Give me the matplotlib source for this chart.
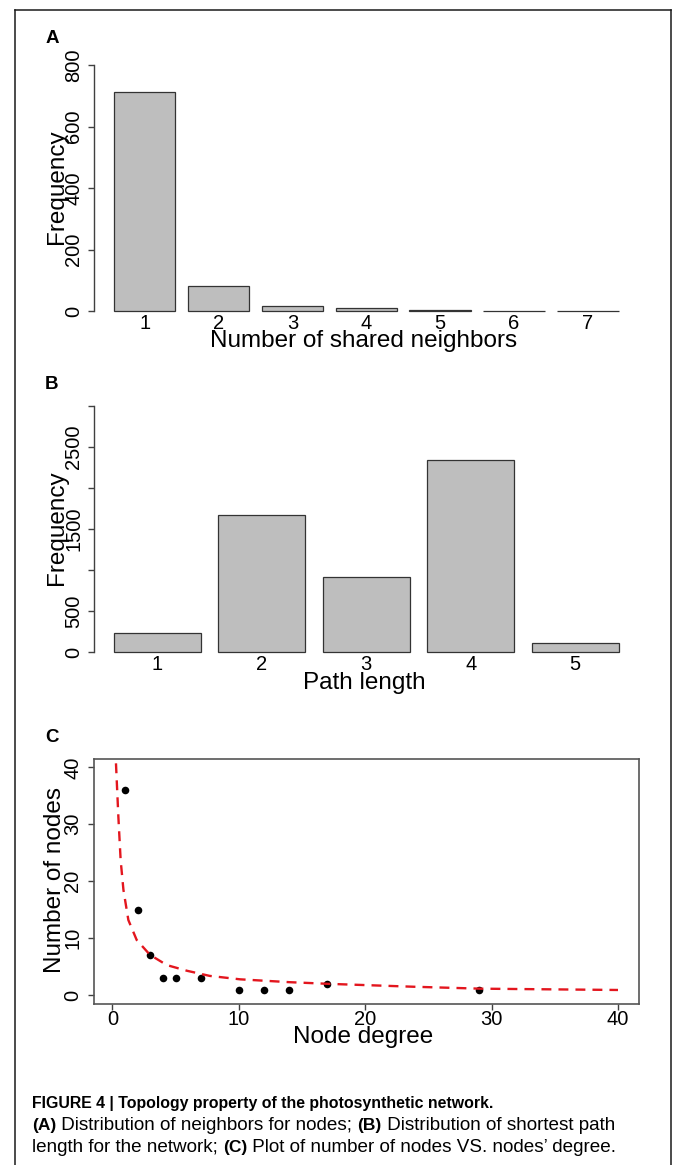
import numpy as np
import matplotlib
matplotlib.use("Agg")
import matplotlib.pyplot as plt
from matplotlib.lines import Line2D

plt.rcParams["font.family"] = ["Liberation Sans", "DejaVu Sans"]

# -----------------------------
# Data
# -----------------------------
shared_neighbors = ["1", "2", "3", "4", "5", "6", "7"]
shared_freq = [713, 81, 17, 11, 3, 1, 1]

path_length = ["1", "2", "3", "4", "5"]
path_freq = [230, 1665, 913, 2335, 110]

node_degree = [1, 2, 3, 4, 5, 7, 10, 12, 14, 17, 29]
node_count = [36, 15, 7, 3, 3, 3, 1, 1, 1, 2, 1]

# fitted curve (dashed red), read point by point
fit_degree = [0.28, 0.47, 0.65, 0.87, 1.26, 1.92, 2.97, 4.3, 5.9, 7.7,
              10.1, 14.0, 17.2, 23.8, 29.1, 40.0]
fit_count = [40.7, 31.3, 23.7, 18.5, 13.2, 9.7, 7.1, 5.3, 4.3, 3.4,
             2.8, 2.3, 2.0, 1.5, 1.16, 0.93]

W, H = 673, 1165
fig = plt.figure(figsize=(W / 100, H / 100), dpi=100)

AXC = "#404040"
BAR = "#bebebe"
TICK = 14.5
LAB = 17.5


def px_axes(left, top, right, bottom):
    return fig.add_axes([left / W, 1 - bottom / H, (right - left) / W, (bottom - top) / H])


def ftext(x, y, s, **kw):
    return fig.text(x / W, 1 - y / H, s, **kw)


def bar_panel(ax, labels, values, ymax, yticks, yticklabels, xpad):
    pos = np.arange(len(values))
    ax.bar(pos, values, width=1 / 1.2, color=BAR, edgecolor="#333333",
           linewidth=0.9, clip_on=False)
    half = 0.69 if len(values) > 5 else 0.61
    ax.set_xlim(-half, len(values) - 1 + half)
    ax.set_ylim(0, ymax)
    for s in ["top", "right", "bottom"]:
        ax.spines[s].set_visible(False)
    ax.spines["left"].set_color(AXC)
    ax.spines["left"].set_linewidth(1.0)
    ax.spines["left"].set_bounds(0, ymax)
    ax.set_xticks(pos)
    ax.set_xticklabels(labels, fontsize=TICK)
    ax.tick_params(axis="x", length=0, pad=xpad)
    ax.set_yticks(yticks)
    ax.set_yticklabels(yticklabels, fontsize=TICK, rotation=90)
    ax.tick_params(axis="y", direction="out", length=4, width=1, color=AXC, pad=3.5)
    for t in ax.get_yticklabels():
        t.set_va("center")


# -----------------------------
# A. shared neighbors
# -----------------------------
axA = px_axes(93.6, 65, 639, 311)
bar_panel(axA, shared_neighbors, shared_freq, 800,
          [0, 200, 400, 600, 800], ["0", "200", "400", "600", "800"], 2.0)
ftext(363.5, 347, "Number of shared neighbors", fontsize=LAB, ha="center", va="baseline")
ftext(57, 187, "Frequency", fontsize=LAB, rotation=90, ha="center", va="center")
ftext(46, 43, "A", fontsize=13.5, fontweight="bold", va="baseline")

# -----------------------------
# B. path length
# -----------------------------
axB = px_axes(93.6, 405.7, 639, 652)
bar_panel(axB, path_length, path_freq, 3000,
          [0, 500, 1000, 1500, 2000, 2500, 3000],
          ["0", "500", "", "1500", "", "2500", ""], 2.0)
ftext(364.5, 689.5, "Path length", fontsize=LAB, ha="center", va="baseline")
ftext(57, 527.5, "Frequency", fontsize=LAB, rotation=90, ha="center", va="center")
ftext(45, 389, "B", fontsize=13.5, fontweight="bold", va="baseline")

# -----------------------------
# C. degree distribution
# -----------------------------
axC = px_axes(93.6, 759, 638.6, 1004)
axC.scatter(node_degree, node_count, s=30, color="black", zorder=2, linewidths=0)
axC.plot(fit_degree, fit_count, color="#e3161e", linewidth=1.7,
         linestyle=(0, (4.2, 3.0)), zorder=3)
axC.set_xlim(-1.49, 41.63)
axC.set_ylim(-1.53, 41.46)
for s in axC.spines.values():
    s.set_color("#555555")
    s.set_linewidth(1.2)
axC.set_xticks([0, 10, 20, 30, 40])
axC.set_yticks([0, 10, 20, 30, 40])
axC.tick_params(axis="both", direction="out", length=4, width=1, color=AXC, labelsize=TICK)
axC.tick_params(axis="x", pad=0.5)
axC.tick_params(axis="y", pad=4)
for t in axC.get_yticklabels():
    t.set_rotation(90)
    t.set_va("center")
ftext(363.5, 1043, "Node degree", fontsize=LAB, ha="center", va="baseline")
ftext(55.5, 880, "Number of nodes", fontsize=LAB, rotation=90, ha="center", va="center")
ftext(45, 741.5, "C", fontsize=13.5, fontweight="bold", va="baseline")

# -----------------------------
# caption
# -----------------------------
renderer = fig.canvas.get_renderer()


def rich_line(x, y, parts, size, bold_size):
    for s, w in parts:
        sz = bold_size if w == "bold" else size
        t = ftext(x, y, s, fontsize=sz, fontweight=w, va="baseline", ha="left")
        x += t.get_window_extent(renderer=renderer).width


CAP = 13.6
BCAP = 12.5
rich_line(32, 1108, [("FIGURE 4 | Topology property of the photosynthetic network.", "bold")],
          CAP, 11.4)
rich_line(32, 1130, [("(A)", "bold"), (" Distribution of neighbors for nodes; ", "normal"),
                     ("(B)", "bold"), (" Distribution of shortest path", "normal")], CAP, BCAP)
rich_line(32, 1152, [("length for the network; ", "normal"), ("(C)", "bold"),
                     (" Plot of number of nodes VS. nodes\u2019 degree.", "normal")], CAP, BCAP)

# outer frame
fx = lambda v: v / W
fy = lambda v: 1 - v / H
for xs, ys in [([15, 15], [10, 1170]), ([15, 671], [10, 10]), ([671, 671], [10, 1170])]:
    fig.add_artist(Line2D([fx(v) for v in xs], [fy(v) for v in ys],
                          color="#1a1a1a", linewidth=1.1))

fig.savefig("out.png", dpi=100)
